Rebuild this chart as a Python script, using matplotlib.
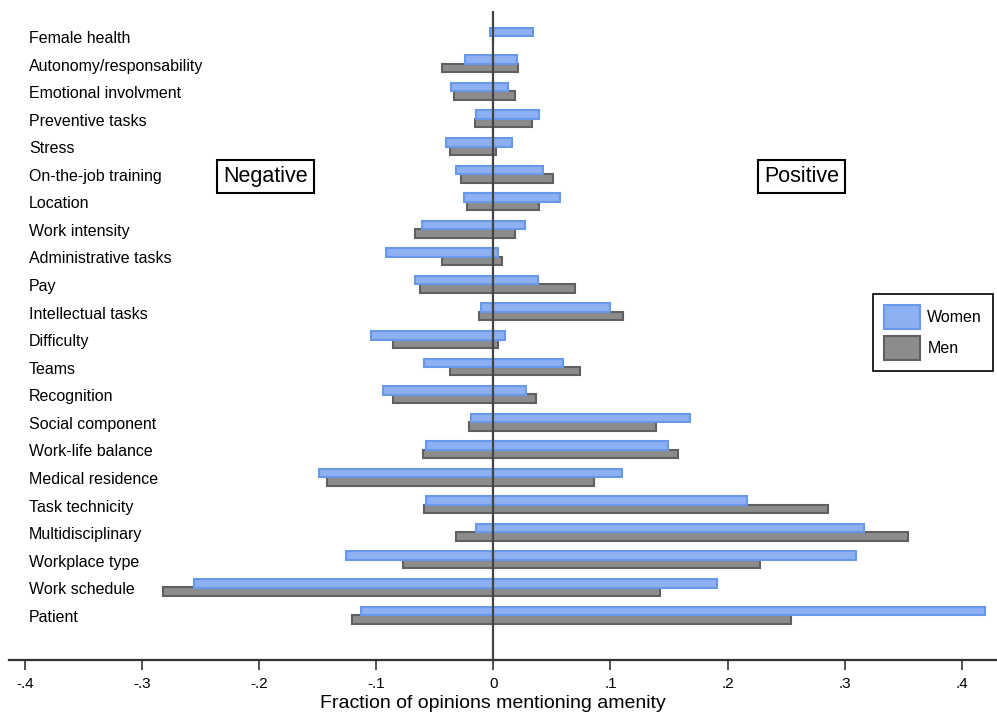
"""Amenities mentioned in opinions, split by sign and by gender."""

import matplotlib
matplotlib.use("Agg")
import matplotlib.pyplot as plt
import numpy as np
from matplotlib.patches import Patch

plt.rcParams["font.family"] = ["Liberation Sans", "DejaVu Sans"]

amenities = [
    "Female health", "Autonomy/responsability", "Emotional involvment",
    "Preventive tasks", "Stress", "On-the-job training", "Location",
    "Work intensity", "Administrative tasks", "Pay", "Intellectual tasks",
    "Difficulty", "Teams", "Recognition", "Social component",
    "Work-life balance", "Medical residence", "Task technicity",
    "Multidisciplinary", "Workplace type", "Work schedule", "Patient",
]

women_neg = [-0.003, -0.024, -0.036, -0.015, -0.041, -0.032, -0.025,
             -0.061, -0.092, -0.067, -0.011, -0.105, -0.059, -0.094,
             -0.019, -0.058, -0.149, -0.058, -0.015, -0.126, -0.256, -0.113]
women_pos = [0.034, 0.020, 0.012, 0.039, 0.016, 0.042, 0.057,
             0.027, 0.004, 0.038, 0.100, 0.010, 0.059, 0.028,
             0.168, 0.149, 0.110, 0.217, 0.317, 0.310, 0.191, 0.420]
men_neg = [0.0, -0.044, -0.034, -0.016, -0.037, -0.028, -0.023,
           -0.067, -0.044, -0.063, -0.012, -0.086, -0.037, -0.086,
           -0.021, -0.060, -0.142, -0.059, -0.032, -0.077, -0.282, -0.121]
men_pos = [0.0, 0.021, 0.018, 0.033, 0.002, 0.051, 0.039,
           0.018, 0.007, 0.070, 0.111, 0.004, 0.074, 0.036,
           0.139, 0.158, 0.086, 0.286, 0.354, 0.228, 0.142, 0.254]

xticks = [-0.4, -0.3, -0.2, -0.1, 0, 0.1, 0.2, 0.3, 0.4]
xtick_labels = ["-.4", "-.3", "-.2", "-.1", "0", ".1", ".2", ".3", ".4"]

blue_fill, blue_edge = "#8cb0f1", "#6898ea"
gray_fill, gray_edge = "#8c8c8c", "#606060"

fig = plt.figure(figsize=(9.97, 7.17), dpi=100)
ax = fig.add_axes([0.0093, 0.0795, 0.9907, 0.9055])

y = np.arange(len(amenities))
h = 0.31
off = 0.152

for vals in (men_neg, men_pos):
    ax.barh(y + off, vals, height=h, color=gray_fill, edgecolor=gray_edge,
            linewidth=1.5, zorder=2)
for vals in (women_neg, women_pos):
    ax.barh(y - off, vals, height=h, color=blue_fill, edgecolor=blue_edge,
            linewidth=1.5, zorder=3)

ax.axvline(0, color="#444444", linewidth=1.6, zorder=4)

for yi, name in zip(y, amenities):
    ax.text(-0.397, yi + 0.08, name, ha="left", va="center", fontsize=11.5)

box = dict(boxstyle="square,pad=0.28", facecolor="white", edgecolor="black",
           linewidth=1.5)
ax.text(-0.195, 5.1, "Negative", ha="center", va="center", fontsize=15.5,
        bbox=box)
ax.text(0.2635, 5.1, "Positive", ha="center", va="center", fontsize=15.5,
        bbox=box)

ax.set_xlim(-0.4138, 0.4303)
ax.set_ylim(22.63, -0.925)
ax.set_xticks(xticks)
ax.set_xticklabels(xtick_labels, fontsize=11)
ax.set_yticks([])
ax.tick_params(axis="x", length=7, width=1.2, color="#333333", pad=5)
for side in ("left", "right", "top"):
    ax.spines[side].set_visible(False)
ax.spines["bottom"].set_linewidth(1.6)
ax.spines["bottom"].set_color("#333333")
ax.set_xlabel("Fraction of opinions mentioning amenity", fontsize=14,
              labelpad=3, x=0.490)

handles = [
    Patch(facecolor=blue_fill, edgecolor=blue_edge, linewidth=1.5, label="Women"),
    Patch(facecolor=gray_fill, edgecolor=gray_edge, linewidth=1.5, label="Men"),
]
leg = fig.legend(handles=handles, loc="upper left",
                 bbox_to_anchor=(873 / 997, 1 - 294 / 717), borderaxespad=0,
                 fontsize=11.5, handlelength=2.25, handleheight=1.95,
                 handletextpad=0.45, labelspacing=0.4, borderpad=0.7,
                 fancybox=False, framealpha=1)
leg.get_frame().set_edgecolor("black")
leg.get_frame().set_linewidth(1.2)

fig.savefig("out.png", dpi=100)
plt.close(fig)
